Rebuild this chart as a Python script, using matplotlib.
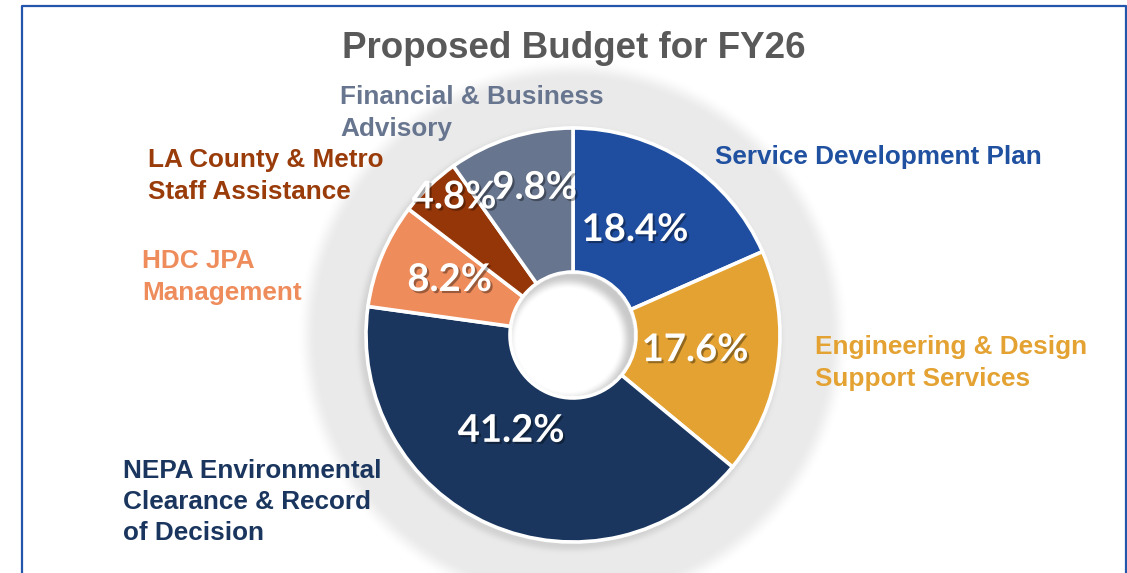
import numpy as np
import matplotlib
matplotlib.use("Agg")
import matplotlib.pyplot as plt
import matplotlib.patheffects as pe
from matplotlib.lines import Line2D

# ---------------- data ----------------
categories = ["Service Development Plan",
              "Engineering & Design\nSupport Services",
              "NEPA Environmental\nClearance & Record\nof Decision",
              "HDC JPA\nManagement",
              "LA County & Metro\nStaff Assistance",
              "Financial & Business\nAdvisory"]
shares = [18.4, 17.6, 41.2, 8.2, 4.8, 9.8]
title = "Proposed Budget for FY26"

# ---------------- style ----------------
slice_colors = ["#1F4EA0", "#E3A232", "#1A365E", "#EE8C5C", "#943607", "#67758F"]
label_colors = ["#2050A0", "#E3A232", "#1A365E", "#EE8C5C", "#9A3B0A", "#67758F"]
W, H = 1127, 573
CX, CY = 573, H - 335          # pie centre (data units = pixels, y up)
R_OUT, R_IN = 207, 63
RING_OUT = 266

# label layout (pixel anchors, left aligned, vertical centre of block)
label_anchor = [(715, 157), (815, 363), (123, 502), (142, 277), (148, 176), (340, 113)]
pct_radius = [0.585, 0.595, 0.555, 0.65, 0.875, 0.73]
pct_dangle = [2.3, 0.4, -8.8, -1.0, -2.9, -3.0]

fig = plt.figure(figsize=(W / 100, H / 100), dpi=100)
ax = fig.add_axes([0, 0, 1, 1])

# category labels
for txt, col, (px, py) in zip(categories, label_colors, label_anchor):
    ax.text(px, H - py, txt, color=col, fontsize=18.8, fontweight="bold",
            family=["Liberation Sans", "DejaVu Sans"], ha="left", va="center",
            linespacing=1.39, zorder=2.5)

# title
ax.text(574, H - 48, title, color="#595959", fontsize=26.5, fontweight="bold",
        family=["Liberation Sans", "DejaVu Sans"], ha="center", va="center", zorder=6)

# soft grey ring behind the donut
x0, x1 = CX - 300, CX + 300
y0, y1 = CY - 300, CY + 300
xs = np.arange(x0, x1) + 0.5
ys = np.arange(y0, y1) + 0.5
XX, YY = np.meshgrid(xs, ys)
rr = np.hypot(XX - CX, YY - CY)
t = np.clip((RING_OUT - rr) / 20 + 0.5, 0, 1)
ring_a = 0.52 * t * t * (3 - 2 * t)
# darker shadow just outside the pie, offset toward lower-left
rs = np.hypot(XX - (CX - 3), YY - (CY - 4))
ts = np.clip((R_OUT + 9 - rs) / 10, 0, 1)
shade = ts * ts * (3 - 2 * ts)
grey = 215 / 255 - 0.10 * shade
rgba = np.zeros(rr.shape + (4,))
rgba[..., 0] = grey
rgba[..., 1] = grey
rgba[..., 2] = grey
rgba[..., 3] = np.clip(ring_a + 0.15 * shade, 0, 1)
rgba[rr < R_OUT - 3, 3] = 0
ax.imshow(rgba, extent=(x0, x1, y0, y1), origin="lower", zorder=2,
          interpolation="bilinear")

# donut
wedges, _ = ax.pie(shares, colors=slice_colors, startangle=90, counterclock=False,
                   radius=R_OUT, center=(CX, CY), frame=True,
                   wedgeprops=dict(width=R_OUT - R_IN, edgecolor="white",
                                   linewidth=2.6))
for w in wedges:
    w.set_zorder(3)

# inner shadow of the hole
hx0, hx1 = CX - R_IN - 2, CX + R_IN + 2
hy0, hy1 = CY - R_IN - 2, CY + R_IN + 2
hxs = np.arange(hx0, hx1, 0.5) + 0.25
hys = np.arange(hy0, hy1, 0.5) + 0.25
HX, HY = np.meshgrid(hxs, hys)
hr = np.hypot(HX - CX, HY - CY)
hs = np.hypot(HX - (CX - 5), HY - (CY - 5))
ti = np.clip((hs - (R_IN - 12)) / 13, 0, 1)
ha_ = 0.35 * ti * ti * (3 - 2 * ti)
ha_[hr > R_IN - 1.8] = 0
hole = np.zeros(hr.shape + (4,))
hole[..., :3] = 0.4
hole[..., 3] = ha_
ax.imshow(hole, extent=(hx0, hx1, hy0, hy1), origin="lower", zorder=4,
          interpolation="bilinear")

# percentage labels
shadow = [pe.withSimplePatchShadow(offset=(1.5, -1.5), shadow_rgbFace="black",
                                   alpha=0.35)]
for w, val, rf, da in zip(wedges, shares, pct_radius, pct_dangle):
    ang = np.deg2rad((w.theta1 + w.theta2) / 2 + da)
    ax.text(CX + rf * R_OUT * np.cos(ang), CY + rf * R_OUT * np.sin(ang) + 1,
            f"{val:.1f}%", color="white", fontsize=27.5, fontweight="bold",
            family=["Lato", "DejaVu Sans"], ha="center", va="center",
            path_effects=shadow, zorder=5)

# frame (top, left, right)
frame_col = "#2356AA"
ax.add_line(Line2D([22, 22, 1126, 1126], [-5, H - 6, H - 6, -5],
                   color=frame_col, linewidth=1.6, zorder=7))

ax.set_xlim(0, W)
ax.set_ylim(0, H)
ax.set_aspect("auto")
ax.axis("off")
fig.savefig("out.png", dpi=100, facecolor="white")
